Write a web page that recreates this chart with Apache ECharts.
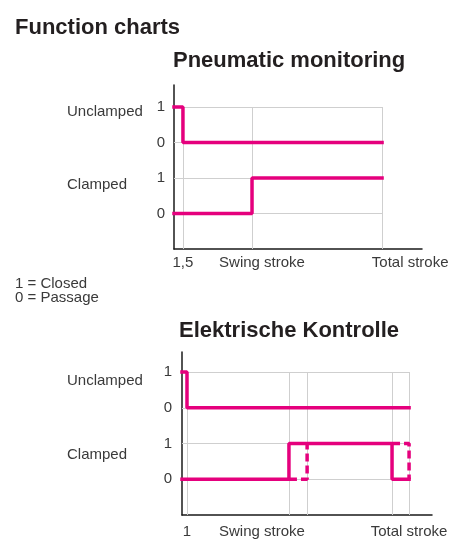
<!DOCTYPE html>
<html>
<head>
<meta charset="utf-8">
<script src="https://cdn.jsdelivr.net/npm/echarts@6/dist/echarts.min.js"></script>
<style>
html, body { margin: 0; padding: 0; background: #fff; }
#chart { width: 469px; height: 541px; }
</style>
</head>
<body>
<div id="chart"></div>
<script>
// stroke positions in % of total stroke
const rowNames = ['Clamped', 'Unclamped']
const stateLabels = ['0', '1', '0', '1']
const pneuMarks = [4.3, 37.5, 100]          // 1,5 / swing / total
const pneuMarkLabels = ['1,5', 'Swing stroke', 'Total stroke']
const pneuUnclamped = [[0, 1], [4.3, 0], [100, 0]]
const pneuClamped = [[0, 0], [37.5, 1], [100, 1]]

const elecMarks = [2.2, 47.1, 55.1, 92.5, 100]
const elecMarkLabels = ['1', 'Swing stroke', 'Total stroke']
const elecUnclamped = [[0, 1], [2.2, 0], [100, 0]]
const elecClamped = [[0, 0], [47.1, 1], [92.5, 0], [100, 0]]
const elecClampedLate = [[[47.1, 0], [55.1, 0], [55.1, 1]], [[92.5, 1], [100, 1], [100, 0]]]

const MAGENTA = '#e5007d'
const GRID = '#cfcfcf'
const FONT = '"Liberation Sans", Arial, sans-serif'

// level on the y axis: clamped row sits on 1..2, unclamped row on 3..4
const level = (row, s) => 1 + row * 2 + s

function gridLines(idx, marks, xEnd) {
    const segs = []
    for (let v = 1; v <= 4; v++) segs.push({ coords: [[0, v], [xEnd, v]] })
    marks.forEach(m => segs.push({ coords: [[m, 0], [m, 4]] }))
    return {
        type: 'lines', coordinateSystem: 'cartesian2d', xAxisIndex: idx, yAxisIndex: idx * 2,
        data: segs, silent: true, z: 1,
        lineStyle: { color: GRID, width: 1, opacity: 1 }
    }
}

function signal(idx, row, pts) {
    return {
        type: 'line', xAxisIndex: idx, yAxisIndex: idx * 2, step: 'end',
        data: pts.map(p => [p[0], level(row, p[1])]),
        symbol: 'none', silent: true, z: 5,
        lineStyle: { color: MAGENTA, width: 3.5, cap: 'square' }
    }
}

function dashed(idx, row, seg) {
    return {
        type: 'line', xAxisIndex: idx, yAxisIndex: idx * 2,
        data: seg.map(p => [p[0], level(row, p[1])]),
        symbol: 'none', silent: true, z: 4,
        lineStyle: { color: MAGENTA, width: 3.5, type: [8, 4] }
    }
}

function xAxis(idx, max, labelPos, labels, margin) {
    return {
        type: 'value', gridIndex: idx, min: 0, max: max,
        axisLine: { show: true, lineStyle: { color: '#1a1a1a', width: 1.5 } },
        axisTick: { show: false }, splitLine: { show: false },
        axisLabel: {
            customValues: labelPos, margin: margin, color: '#3a3a3a', fontSize: 15, fontFamily: FONT,
            formatter: v => labels[labelPos.indexOf(v)]
        }
    }
}

function yAxes(idx, max, margin, namePos, nameOffset) {
    return [{
        type: 'value', gridIndex: idx, min: 0, max: max,
        axisLine: { show: true, lineStyle: { color: '#1a1a1a', width: 1.5 } },
        axisTick: { show: false }, splitLine: { show: false },
        axisLabel: {
            customValues: [1, 2, 3, 4], margin: margin, color: '#3a3a3a', fontSize: 15, fontFamily: FONT,
            formatter: v => stateLabels[v - 1]
        }
    }, {
        type: 'value', gridIndex: idx, min: 0, max: max, position: 'left', offset: nameOffset,
        axisLine: { show: false }, axisTick: { show: false }, splitLine: { show: false },
        axisLabel: {
            customValues: namePos, margin: 0, align: 'left', color: '#3a3a3a', fontSize: 15, fontFamily: FONT,
            formatter: v => rowNames[namePos.indexOf(v)]
        }
    }]
}

const titleStyle = { color: '#231f20', fontSize: 22, fontWeight: 'bold', fontFamily: FONT }

const option = {
    animation: false,
    title: [
        { text: 'Function charts', left: 15, top: 17, padding: 0, textStyle: titleStyle },
        { text: 'Pneumatic monitoring', left: 173, top: 50, padding: 0, textStyle: titleStyle },
        { text: 'Elektrische Kontrolle', left: 179, top: 320, padding: 0, textStyle: titleStyle },
        {
            text: '1 = Closed\n0 = Passage', left: 15, top: 277, padding: 0,
            textStyle: { color: '#3a3a3a', fontSize: 15, fontWeight: 'normal', fontFamily: FONT, lineHeight: 14 }
        }
    ],
    grid: [
        { left: 174, top: 85, right: 47, bottom: 292, outerBoundsMode: 'none' },
        { left: 182, top: 352, right: 37, bottom: 26, outerBoundsMode: 'none' }
    ],
    xAxis: [
        xAxis(0, 119.2, [4.3, 42.3, 113.5], pneuMarkLabels, 6),
        xAxis(1, 110.1, [2.2, 35.2, 100], elecMarkLabels, 9)
    ],
    yAxis: [].concat(
        yAxes(0, 4.62, 9, [1.8, 3.86], 107),
        yAxes(1, 4.56, 10, [1.68, 3.75], 115)
    ),
    series: [
        gridLines(0, pneuMarks, 100),
        gridLines(1, elecMarks, 100),
        signal(0, 1, pneuUnclamped),
        signal(0, 0, pneuClamped),
        signal(1, 1, elecUnclamped),
        signal(1, 0, elecClamped)
    ].concat(elecClampedLate.map(seg => dashed(1, 0, seg)))
}

const chart = echarts.init(document.getElementById('chart'), null, { renderer: 'canvas' })
chart.setOption(option)
</script>
</body>
</html>
